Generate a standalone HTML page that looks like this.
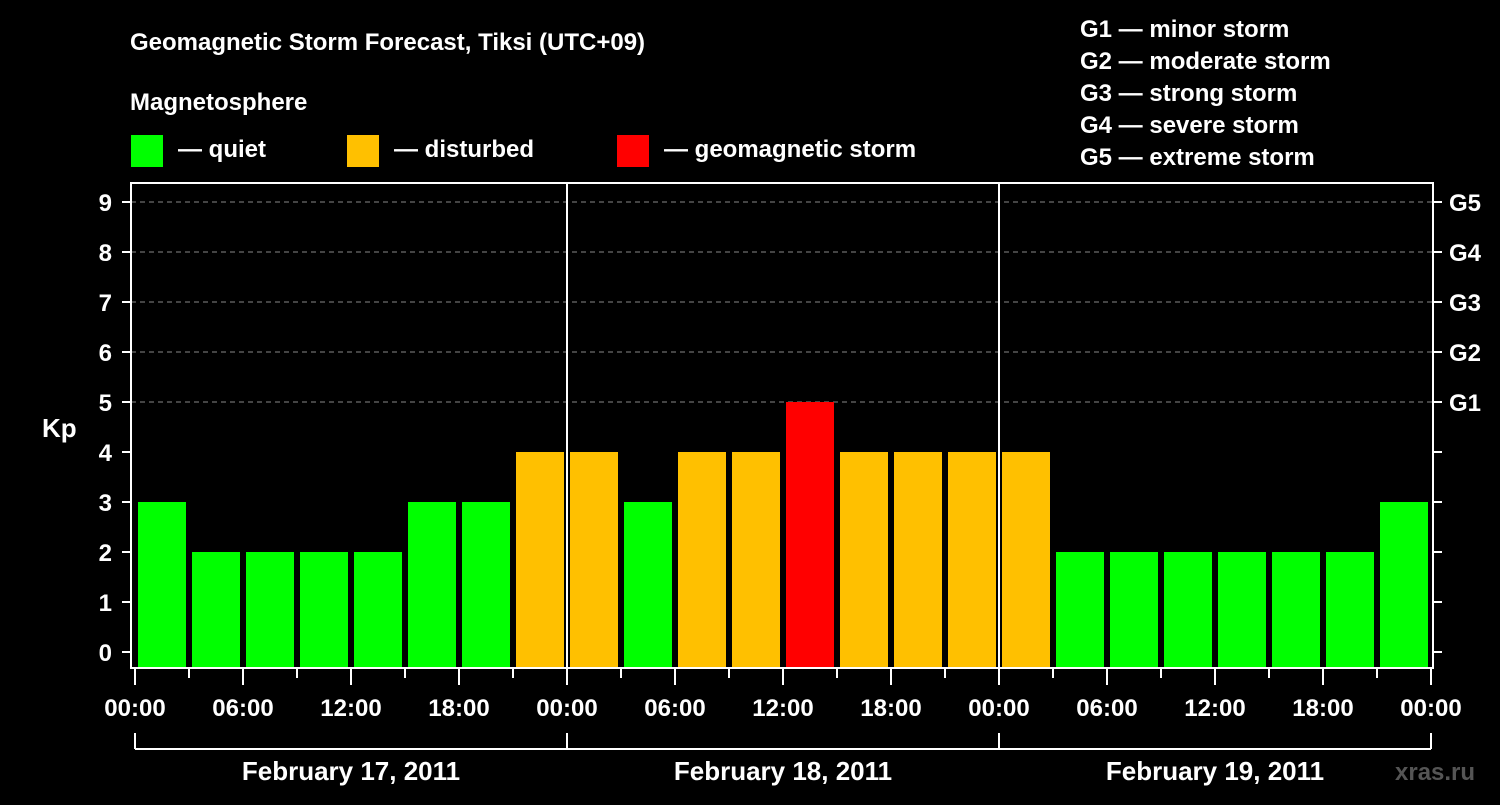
<!DOCTYPE html>
<html><head><meta charset="utf-8"><style>
body{margin:0;background:#000;}
svg text{font-family:"Liberation Sans",Arial,sans-serif;font-weight:bold;fill:#fff;}
</style></head><body>
<svg id="c" width="1500" height="800" xmlns="http://www.w3.org/2000/svg">
<rect width="1500" height="800" fill="#000"/>
<text x="130" y="50" font-size="24">Geomagnetic Storm Forecast, Tiksi (UTC+09)</text>
<text x="130" y="110" font-size="24">Magnetosphere</text>
<g><rect x="131" y="135" width="32" height="32" fill="#00ff00"/><text x="178" y="157" font-size="24">— quiet</text></g>
<g><rect x="347" y="135" width="32" height="32" fill="#ffc000"/><text x="394" y="157" font-size="24">— disturbed</text></g>
<g><rect x="617" y="135" width="32" height="32" fill="#ff0000"/><text x="664" y="157" font-size="24">— geomagnetic storm</text></g>
<g font-size="24">
<text x="1080" y="37">G1 — minor storm</text>
<text x="1080" y="69">G2 — moderate storm</text>
<text x="1080" y="101">G3 — strong storm</text>
<text x="1080" y="133">G4 — severe storm</text>
<text x="1080" y="165">G5 — extreme storm</text>
</g>
<text x="42" y="437" font-size="26">Kp</text>
<g id="grid"></g><g id="bars"></g><g id="axes"></g>
<text x="1395" y="780" font-size="24" fill="#555" style="fill:#555">xras.ru</text>
</svg>
<script>
const kpValues=[3,2,2,2,2,3,3,4, 4,3,4,4,5,4,4,4, 4,2,2,2,2,2,2,3];
const dayLabels=["February 17, 2011","February 18, 2011","February 19, 2011"];
const hourLabels=["00:00","06:00","12:00","18:00"];
const gLabels=["G1","G2","G3","G4","G5"];
const NS="http://www.w3.org/2000/svg";
const X0=135,DAY=432,BOT=668,TOP=183,L=131,R=1433;
const y=v=>652-v*50;
const xh=h=>X0+h*DAY/24;
function mk(t,a,p){const e=document.createElementNS(NS,t);for(const k in a)e.setAttribute(k,a[k]);p.appendChild(e);return e;}
const grid=document.getElementById('grid'),bars=document.getElementById('bars'),axes=document.getElementById('axes');
for(let v=5;v<=9;v++){const l=mk('line',{x1:L,x2:R,y1:y(v),y2:y(v),stroke:'#888','stroke-dasharray':'5,4','stroke-width':1},grid);

}
const color=v=>v>=5?'#ff0000':(v>=4?'#ffc000':'#00ff00');
kpValues.forEach((v,i)=>{const x=xh(i*3)+3;const r=mk('rect',{x:x,y:y(v),width:48,height:BOT-y(v),fill:color(v)},bars);

});
// frame
const f=mk('rect',{x:L,y:TOP,width:R-L,height:BOT-TOP,fill:'none',stroke:'#fff','stroke-width':2},axes);


for(let d=1;d<3;d++){const s=mk('line',{x1:X0+d*DAY,x2:X0+d*DAY,y1:TOP,y2:BOT,stroke:'#fff','stroke-width':2},axes);

}
for(let v=0;v<=9;v++){
 mk('line',{x1:122,x2:L,y1:y(v),y2:y(v),stroke:'#fff','stroke-width':2},axes);
 mk('line',{x1:R,x2:1442,y1:y(v),y2:y(v),stroke:'#fff','stroke-width':2},axes);
 const t=mk('text',{x:112,y:y(v)+9,'font-size':24,'text-anchor':'end'},axes);t.textContent=v;
 
 
 if(v>=5){const g=mk('text',{x:1449,y:y(v)+9,'font-size':24},axes);g.textContent=gLabels[v-5];
 
 }
}
for(let h=0;h<=72;h+=3){const major=h%6===0;mk('line',{x1:xh(h),x2:xh(h),y1:BOT,y2:major?685:678,stroke:'#fff','stroke-width':2},axes);
 if(major&&h%24%6===0&&(h%24===0||true)){ }
}
for(let h=0;h<=72;h+=6){const t=mk('text',{x:xh(h),y:716,'font-size':24,'text-anchor':'middle'},axes);t.textContent=hourLabels[(h%24)/6];
 
 }
mk('line',{x1:X0,x2:xh(72),y1:749,y2:749,stroke:'#fff','stroke-width':2},axes);
for(let d=0;d<=3;d++)mk('line',{x1:X0+d*DAY,x2:X0+d*DAY,y1:733,y2:749,stroke:'#fff','stroke-width':2},axes);
dayLabels.forEach((s,d)=>{const t=mk('text',{x:X0+d*DAY+DAY/2,y:780,'font-size':26,'text-anchor':'middle'},axes);t.textContent=s;
 
 });
</script>
</body></html>
